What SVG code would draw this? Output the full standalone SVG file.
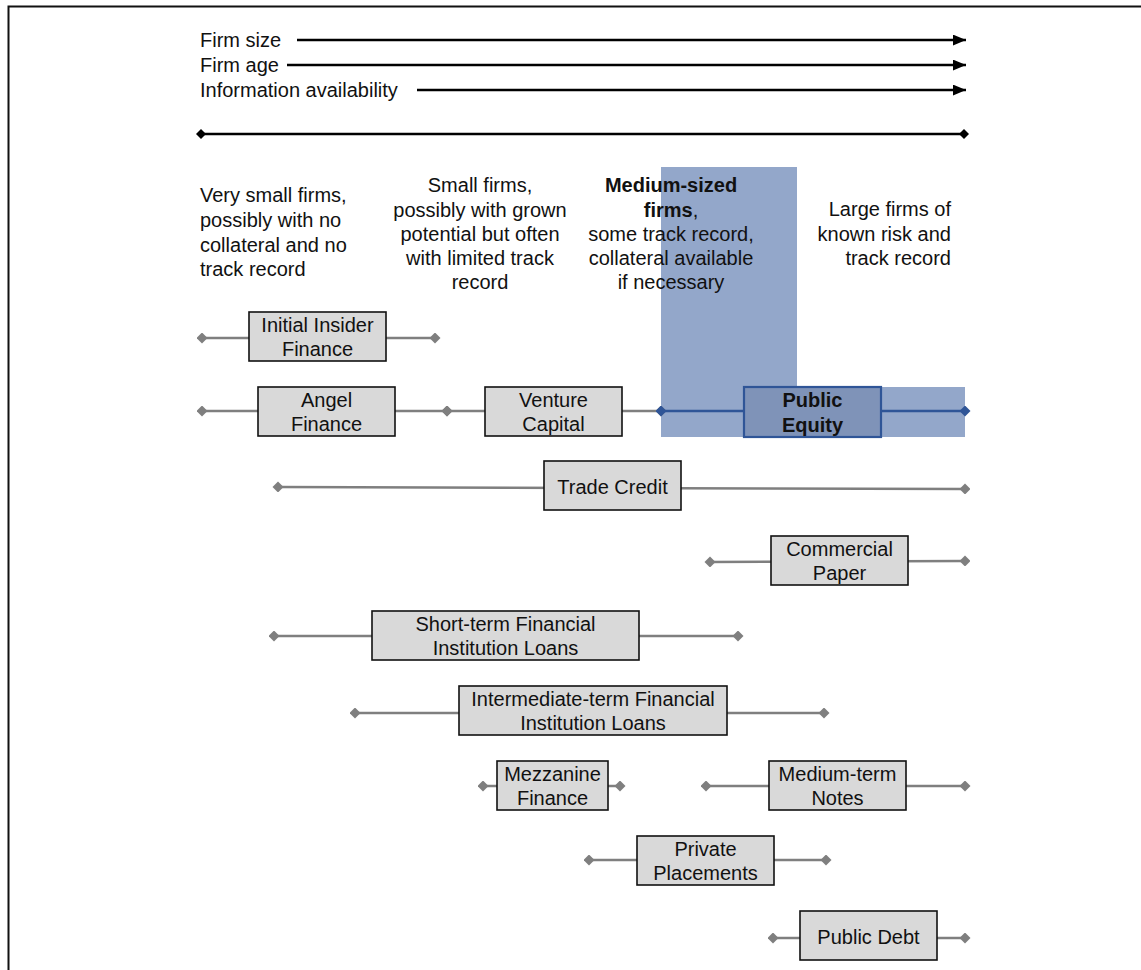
<svg xmlns="http://www.w3.org/2000/svg" width="1141" height="970" viewBox="0 0 1141 970">
  <style>
    text { font-family: "Liberation Sans", Arial, sans-serif; font-size: 20px; fill: #111; }
    .c { text-anchor: middle; }
    .r { text-anchor: end; }
    .b { font-weight: bold; }
    .box { fill: #d9d9d9; stroke: #111; stroke-width: 1.6; }
    .link { stroke: #7f7f7f; stroke-width: 2.5; fill: none; marker-start: url(#dg); marker-end: url(#dg); }
    .axis { stroke: #000; stroke-width: 2.5; fill: none; }
  </style>
  <defs>
    <marker id="dg" viewBox="0 0 10 10" refX="5" refY="5" markerWidth="11" markerHeight="11" markerUnits="userSpaceOnUse" orient="auto">
      <path d="M0 5 L5 0 L10 5 L5 10 Z" fill="#7f7f7f"/>
    </marker>
    <marker id="db" viewBox="0 0 10 10" refX="5" refY="5" markerWidth="11" markerHeight="11" markerUnits="userSpaceOnUse" orient="auto">
      <path d="M0 5 L5 0 L10 5 L5 10 Z" fill="#2f5597"/>
    </marker>
    <marker id="dk" viewBox="0 0 10 10" refX="5" refY="5" markerWidth="10" markerHeight="10" markerUnits="userSpaceOnUse" orient="auto">
      <path d="M0 5 L5 0 L10 5 L5 10 Z" fill="#000"/>
    </marker>
    <marker id="ah" viewBox="0 0 12 10" refX="12" refY="5" markerWidth="13" markerHeight="11" markerUnits="userSpaceOnUse" orient="auto">
      <path d="M0 0 L12 5 L0 10 Z" fill="#000"/>
    </marker>
  </defs>

  <!-- frame -->
  <path d="M8.5 970 V6.5 H1141" fill="none" stroke="#111" stroke-width="2"/>

  <!-- size / age / information axes -->
  <g id="axes">
    <text x="200" y="47">Firm size</text>
    <text x="200" y="72">Firm age</text>
    <text x="200" y="97">Information availability</text>
    <line class="axis" x1="297" y1="40" x2="966" y2="40" marker-end="url(#ah)"/>
    <line class="axis" x1="287" y1="65" x2="966" y2="65" marker-end="url(#ah)"/>
    <line class="axis" x1="417" y1="90" x2="966" y2="90" marker-end="url(#ah)"/>
    <line class="axis" x1="201" y1="134" x2="964" y2="134" marker-start="url(#dk)" marker-end="url(#dk)"/>
  </g>

  <!-- highlight band for public equity -->
  <g id="highlight">
    <path d="M661 167 H797 V387 H965 V437 H661 Z" fill="#93a7ca"/>
  </g>

  <!-- firm categories -->
  <g id="categories">
    <text x="200" y="202">Very small firms,</text>
    <text x="200" y="227">possibly with no</text>
    <text x="200" y="252">collateral and no</text>
    <text x="200" y="276">track record</text>

    <text class="c" x="480" y="192">Small firms,</text>
    <text class="c" x="480" y="217">possibly with grown</text>
    <text class="c" x="480" y="241">potential but often</text>
    <text class="c" x="480" y="265">with limited track</text>
    <text class="c" x="480" y="289">record</text>

    <text class="c b" x="671" y="192">Medium-sized</text>
    <text class="c" x="671" y="217"><tspan class="b">firms</tspan>,</text>
    <text class="c" x="671" y="241">some track record,</text>
    <text class="c" x="671" y="265">collateral available</text>
    <text class="c" x="671" y="289">if necessary</text>

    <text class="r" x="951" y="216">Large firms of</text>
    <text class="r" x="951" y="241">known risk and</text>
    <text class="r" x="951" y="265">track record</text>
  </g>

  <!-- ranges -->
  <g id="connectors">
    <line class="link" x1="202" y1="338" x2="435" y2="338"/>
    <line class="link" x1="202" y1="411" x2="447" y2="411"/>
    <line class="link" x1="447" y1="411" x2="661" y2="411" marker-end="none"/>
    <line x1="661" y1="411" x2="965" y2="411" stroke="#2f5597" stroke-width="2.5" marker-start="url(#db)" marker-end="url(#db)"/>
    <line class="link" x1="278" y1="487" x2="965" y2="489"/>
    <line class="link" x1="710" y1="562" x2="965" y2="561"/>
    <line class="link" x1="274" y1="636" x2="738" y2="636"/>
    <line class="link" x1="355" y1="713" x2="824" y2="713"/>
    <line class="link" x1="483" y1="786" x2="620" y2="786"/>
    <line class="link" x1="706" y1="786" x2="965" y2="786"/>
    <line class="link" x1="589" y1="860" x2="826" y2="860"/>
    <line class="link" x1="773" y1="938" x2="965" y2="938"/>
  </g>

  <g id="initial-insider-finance">
    <rect class="box" x="249" y="312" width="137" height="49"/>
    <text class="c" x="317.5" y="332">Initial Insider</text>
    <text class="c" x="317.5" y="356">Finance</text>
  </g>
  <g id="angel-finance">
    <rect class="box" x="258" y="387" width="137" height="49"/>
    <text class="c" x="326.5" y="407">Angel</text>
    <text class="c" x="326.5" y="431">Finance</text>
  </g>
  <g id="venture-capital">
    <rect class="box" x="485" y="387" width="137" height="49"/>
    <text class="c" x="553.5" y="407">Venture</text>
    <text class="c" x="553.5" y="431">Capital</text>
  </g>
  <g id="public-equity">
    <rect x="744" y="387" width="137" height="50" fill="#7f93b8" stroke="#2f5597" stroke-width="2.2"/>
    <text class="c b" x="812.5" y="407">Public</text>
    <text class="c b" x="812.5" y="432">Equity</text>
  </g>
  <g id="trade-credit">
    <rect class="box" x="544" y="461" width="137" height="49"/>
    <text class="c" x="612.5" y="494">Trade Credit</text>
  </g>
  <g id="commercial-paper">
    <rect class="box" x="771" y="536" width="137" height="49"/>
    <text class="c" x="839.5" y="556">Commercial</text>
    <text class="c" x="839.5" y="580">Paper</text>
  </g>
  <g id="short-term-loans">
    <rect class="box" x="372" y="611" width="267" height="49"/>
    <text class="c" x="505.5" y="631">Short-term Financial</text>
    <text class="c" x="505.5" y="655">Institution Loans</text>
  </g>
  <g id="intermediate-term-loans">
    <rect class="box" x="459" y="686" width="268" height="49"/>
    <text class="c" x="593" y="706">Intermediate-term Financial</text>
    <text class="c" x="593" y="730">Institution Loans</text>
  </g>
  <g id="mezzanine-finance">
    <rect class="box" x="497" y="761" width="111" height="49"/>
    <text class="c" x="552.5" y="781">Mezzanine</text>
    <text class="c" x="552.5" y="805">Finance</text>
  </g>
  <g id="medium-term-notes">
    <rect class="box" x="769" y="761" width="137" height="49"/>
    <text class="c" x="837.5" y="781">Medium-term</text>
    <text class="c" x="837.5" y="805">Notes</text>
  </g>
  <g id="private-placements">
    <rect class="box" x="637" y="836" width="137" height="49"/>
    <text class="c" x="705.5" y="856">Private</text>
    <text class="c" x="705.5" y="880">Placements</text>
  </g>
  <g id="public-debt">
    <rect class="box" x="800" y="911" width="137" height="49"/>
    <text class="c" x="868.5" y="944">Public Debt</text>
  </g>
</svg>
